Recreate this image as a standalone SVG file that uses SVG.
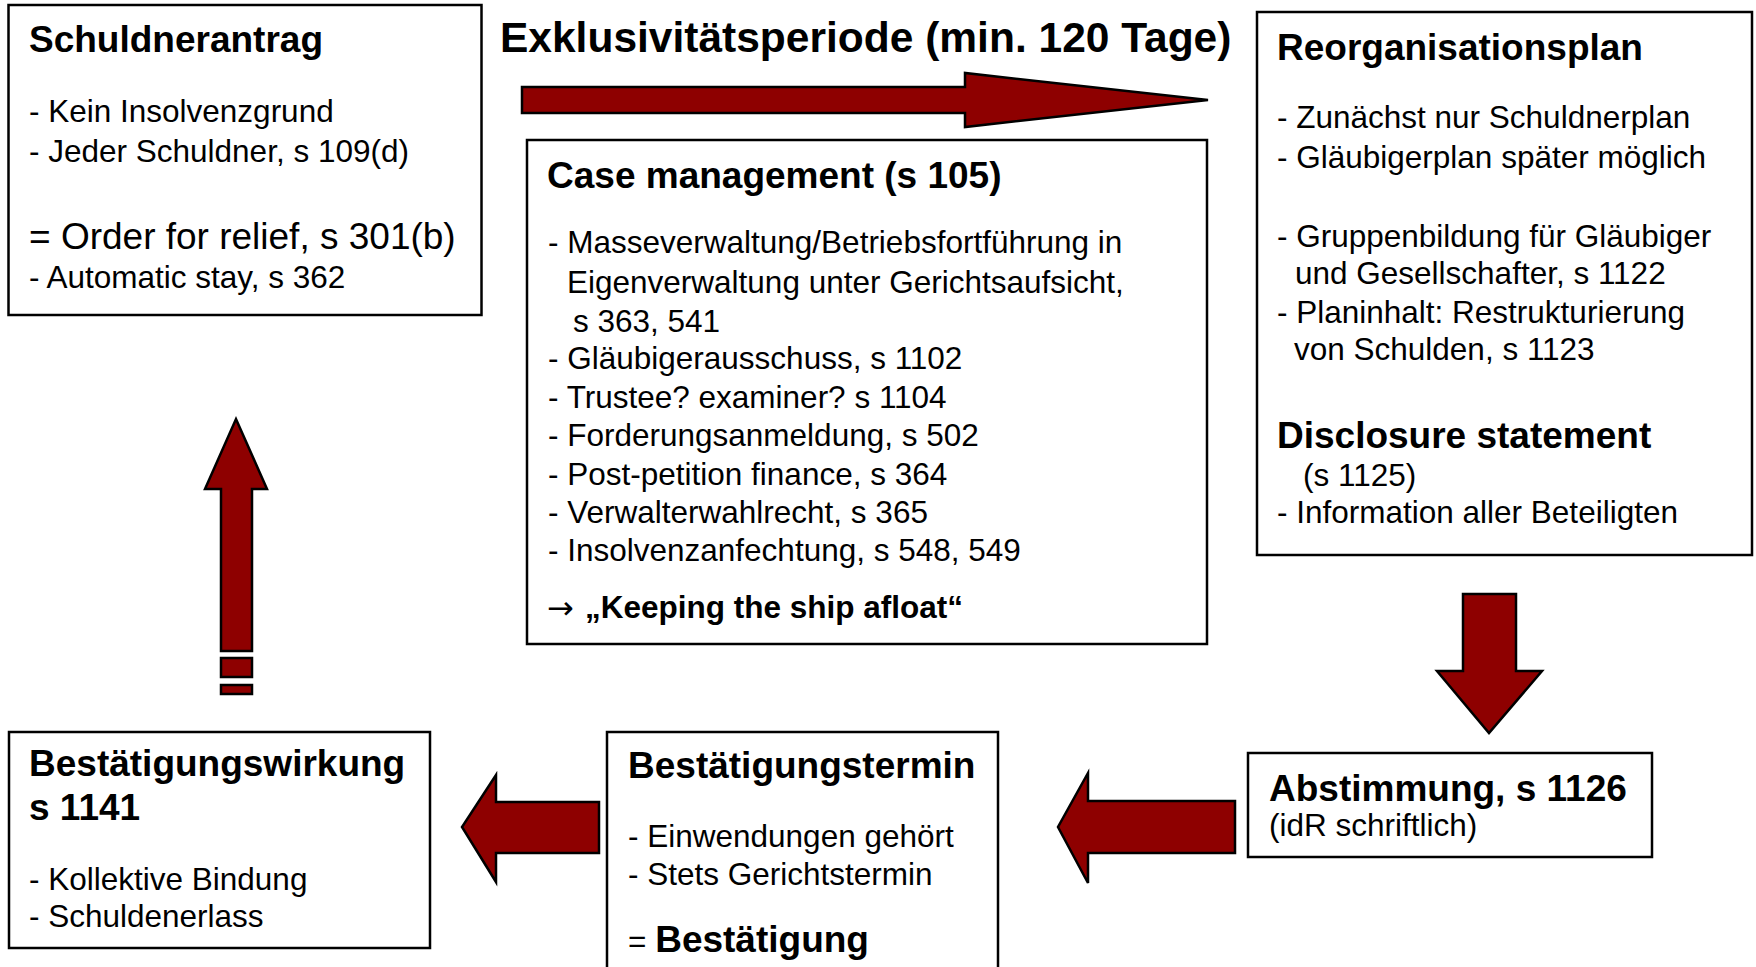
<svg xmlns="http://www.w3.org/2000/svg" width="1756" height="967" viewBox="0 0 1756 967">
<style>
  .box { fill: #ffffff; stroke: #000000; stroke-width: 2.5; }
  .arr { fill: #8E0000; stroke: #000000; stroke-width: 2.5; stroke-linejoin: miter; }
  text { font-family: "Liberation Sans", Arial, sans-serif; fill: #000000; }
  .t { font-size: 37px; font-weight: bold; }
  .b { font-size: 31.5px; }
  .big { font-size: 37px; }
  .bb { font-size: 31.5px; font-weight: bold; }
  .head { font-size: 42.5px; font-weight: bold; }
  .sym { font-family: "DejaVu Sans", sans-serif; font-size: 32px; }
</style>
<rect x="0" y="0" width="1756" height="967" fill="#ffffff"/>

<g id="connectors">
  <polygon class="arr" points="522,87 965,87 965,73 1208,100 965,127 965,113 522,113"/>
  <polygon class="arr" points="1463,594 1516,594 1516,671 1542,671 1489,733 1437,671 1463,671"/>
  <polygon class="arr" points="1235,801 1235,853 1088,853 1088,883 1058,827 1088,773 1088,801"/>
  <polygon class="arr" points="599,802 599,853 496,853 496,882 462,827 496,775 496,802"/>
  <polygon class="arr" points="221,651 221,489 205,489 236,419 267,489 252,489 252,651"/>
  <rect class="arr" x="221" y="658" width="31" height="19"/>
  <rect class="arr" x="221" y="685" width="31" height="9"/>
</g>

<g id="period-label">
  <text class="head" x="500" y="52">Exklusivitätsperiode (min. 120 Tage)</text>
</g>

<g id="schuldnerantrag">
  <rect class="box" x="8.5" y="5" width="473" height="310"/>
  <text class="t" x="29" y="52">Schuldnerantrag</text>
  <text class="b" x="29" y="122">- Kein Insolvenzgrund</text>
  <text class="b" x="29" y="162">- Jeder Schuldner, s 109(d)</text>
  <text class="big" x="29" y="249">= Order for relief, s 301(b)</text>
  <text class="b" x="29" y="288">- Automatic stay, s 362</text>
</g>

<g id="case-management">
  <rect class="box" x="527" y="140" width="680" height="504"/>
  <text class="t" x="547" y="188">Case management (s 105)</text>
  <text class="b" x="548" y="253">- Masseverwaltung/Betriebsfortführung in</text>
  <text class="b" x="567" y="293">Eigenverwaltung unter Gerichtsaufsicht,</text>
  <text class="b" x="573" y="332">s 363, 541</text>
  <text class="b" x="548" y="369">- Gläubigerausschuss, s 1102</text>
  <text class="b" x="548" y="408">- Trustee? examiner? s 1104</text>
  <text class="b" x="548" y="446">- Forderungsanmeldung, s 502</text>
  <text class="b" x="548" y="485">- Post-petition finance, s 364</text>
  <text class="b" x="548" y="523">- Verwalterwahlrecht, s 365</text>
  <text class="b" x="548" y="561">- Insolvenzanfechtung, s 548, 549</text>
  <text class="sym" x="547" y="619">→</text>
  <text class="bb" x="585" y="618">„Keeping the ship afloat“</text>
</g>

<g id="reorganisationsplan">
  <rect class="box" x="1257" y="12" width="495" height="543"/>
  <text class="t" x="1277" y="60">Reorganisationsplan</text>
  <text class="b" x="1277" y="128">- Zunächst nur Schuldnerplan</text>
  <text class="b" x="1277" y="168">- Gläubigerplan später möglich</text>
  <text class="b" x="1277" y="247">- Gruppenbildung für Gläubiger</text>
  <text class="b" x="1295" y="284">und Gesellschafter, s 1122</text>
  <text class="b" x="1277" y="323">- Planinhalt: Restrukturierung</text>
  <text class="b" x="1294" y="360">von Schulden, s 1123</text>
  <text class="t" x="1277" y="448">Disclosure statement</text>
  <text class="b" x="1303" y="486">(s 1125)</text>
  <text class="b" x="1277" y="523">- Information aller Beteiligten</text>
</g>

<g id="abstimmung">
  <rect class="box" x="1248" y="753" width="404" height="104"/>
  <text class="t" x="1269" y="801">Abstimmung, s 1126</text>
  <text class="b" x="1269" y="836">(idR schriftlich)</text>
</g>

<g id="bestaetigungstermin">
  <rect class="box" x="607" y="732" width="391" height="260"/>
  <text class="t" x="628" y="778">Bestätigungstermin</text>
  <text class="b" x="628" y="847">- Einwendungen gehört</text>
  <text class="b" x="628" y="885">- Stets Gerichtstermin</text>
  <text x="628" y="952"><tspan class="b">= </tspan><tspan class="t">Bestätigung</tspan></text>
</g>

<g id="bestaetigungswirkung">
  <rect class="box" x="9" y="732" width="421" height="216"/>
  <text class="t" x="29" y="776">Bestätigungswirkung</text>
  <text class="t" x="29" y="820">s 1141</text>
  <text class="b" x="29" y="890">- Kollektive Bindung</text>
  <text class="b" x="29" y="927">- Schuldenerlass</text>
</g>
</svg>
